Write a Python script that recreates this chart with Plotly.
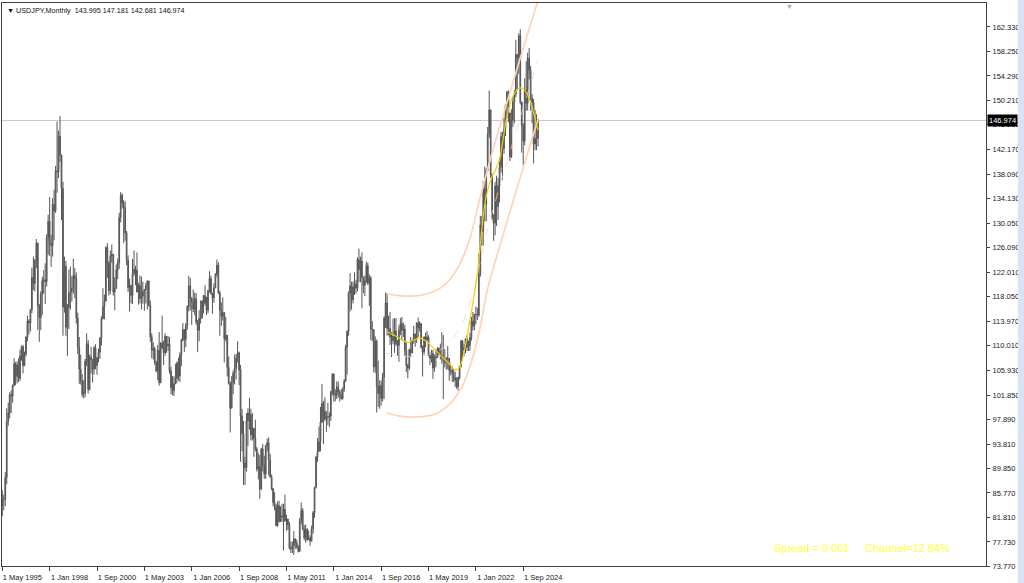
import plotly.graph_objects as go

# ---------------- data: USDJPY monthly, May 1995 .. Jul 2025 ----------------
first_open = 83.7
close = [
    84.6, 84.7, 88.3, 97.5, 98.9, 101.9, 101.7, 103.4,                      # 1995 (May-Dec)
    107.0, 104.9, 106.8, 104.6, 108.3, 109.8, 106.7, 108.6, 111.4, 114.0, 113.7, 115.9,  # 1996
    121.2, 120.2, 124.0, 126.8, 116.5, 114.6, 118.4, 120.6, 120.8, 120.5, 127.7, 130.4,  # 1997
    126.8, 126.4, 133.2, 132.1, 138.7, 138.5, 144.4, 141.3, 135.8, 116.3, 123.0, 113.0,  # 1998
    116.2, 118.6, 118.9, 119.4, 121.5, 121.0, 114.5, 109.7, 106.1, 104.2, 102.0, 102.2,  # 1999
    107.4, 110.3, 102.8, 108.1, 107.7, 106.1, 109.6, 106.7, 108.0, 108.9, 111.2, 114.4,  # 2000
    116.4, 117.3, 126.1, 123.5, 119.0, 124.7, 125.0, 118.8, 119.4, 122.4, 123.6, 131.0,  # 2001
    134.7, 133.4, 132.7, 128.5, 124.0, 119.5, 119.9, 118.2, 121.8, 122.5, 122.4, 118.8,  # 2002
    119.9, 117.7, 118.1, 118.9, 119.2, 119.8, 120.6, 116.6, 111.4, 109.2, 109.5, 107.2,  # 2003
    105.8, 109.2, 103.9, 110.4, 109.6, 108.8, 111.5, 109.9, 110.2, 105.8, 103.1, 102.6,  # 2004
    103.7, 104.6, 107.1, 105.0, 108.4, 110.9, 112.6, 111.0, 113.3, 116.4, 119.8, 117.8,  # 2005
    117.2, 116.0, 117.7, 113.8, 112.5, 114.4, 114.6, 117.3, 118.2, 116.9, 115.8, 119.0,  # 2006
    121.0, 118.6, 117.8, 119.5, 121.7, 123.2, 118.6, 115.8, 114.8, 115.4, 111.1, 111.7,  # 2007
    106.4, 103.7, 99.7, 103.9, 105.5, 106.2, 107.9, 108.8, 106.0, 98.4, 95.5, 90.7,      # 2008
    89.9, 97.6, 98.9, 98.6, 95.3, 96.4, 94.7, 93.0, 89.7, 90.1, 86.4, 93.0,              # 2009
    90.3, 88.9, 93.5, 94.0, 91.2, 88.4, 86.5, 84.2, 83.5, 80.4, 83.7, 81.1,              # 2010
    82.0, 81.8, 83.1, 81.2, 81.5, 80.5, 76.7, 76.6, 77.1, 78.2, 77.6, 76.9,              # 2011
    76.2, 81.2, 82.9, 79.8, 78.4, 79.8, 78.1, 78.4, 77.9, 79.9, 82.5, 86.7,              # 2012
    91.7, 92.6, 94.2, 97.4, 100.5, 99.2, 97.9, 98.2, 98.3, 98.4, 102.4, 105.3,           # 2013
    102.0, 101.8, 103.2, 102.3, 101.8, 101.3, 102.8, 104.1, 109.7, 112.3, 118.6, 119.8,  # 2014
    117.5, 119.6, 120.1, 119.4, 124.1, 122.5, 123.9, 121.2, 119.9, 120.6, 123.1, 120.2,  # 2015
    121.1, 112.7, 112.6, 106.5, 110.7, 103.2, 102.1, 103.4, 101.3, 104.8, 114.5, 117.0,  # 2016
    112.8, 112.8, 111.4, 111.5, 110.8, 112.4, 110.3, 110.0, 112.5, 113.6, 112.5, 112.7,  # 2017
    109.2, 106.7, 106.3, 109.3, 108.8, 110.7, 111.9, 111.0, 113.7, 112.9, 113.6, 109.7,  # 2018
    108.9, 111.4, 110.9, 111.4, 108.3, 107.9, 108.7, 106.3, 108.1, 108.0, 109.5, 108.6,  # 2019
    108.4, 107.9, 107.5, 107.2, 107.8, 107.9, 105.9, 105.9, 105.5, 104.7, 104.3, 103.2,  # 2020
    104.7, 106.6, 110.7, 109.3, 109.6, 111.1, 109.7, 110.0, 111.3, 114.0, 113.2, 115.1,  # 2021
    115.1, 115.0, 121.7, 129.8, 128.7, 135.7, 133.2, 138.7, 144.7, 148.7, 138.1, 131.1,  # 2022
    130.1, 136.2, 132.8, 136.3, 139.3, 144.3, 142.3, 145.5, 149.4, 151.7, 148.2, 141.0,  # 2023
    147.0, 150.0, 151.3, 157.8, 157.3, 160.9, 150.0, 146.2, 143.6, 152.0, 149.8, 157.2,  # 2024
    155.2, 150.6, 149.9, 143.1, 144.0, 143.995, 146.974,                                 # 2025
]
high = [
    86.2, 85.5, 89.2, 99.7, 100.6, 102.3, 102.6, 103.6,
    107.9, 107.3, 107.4, 107.9, 109.3, 110.0, 110.1, 109.0, 111.5, 114.9, 114.3, 116.0,
    122.8, 124.6, 124.2, 127.5, 126.9, 116.8, 118.9, 121.3, 122.4, 123.5, 128.3, 131.5,
    134.4, 128.2, 134.2, 135.6, 139.5, 146.8, 145.3, 147.7, 139.6, 136.9, 124.6, 123.9,
    116.8, 122.5, 123.0, 121.4, 124.3, 122.7, 122.0, 115.4, 111.4, 108.5, 105.3, 104.3,
    107.8, 112.0, 110.9, 108.5, 109.8, 107.6, 109.9, 110.2, 108.1, 109.5, 111.4, 114.8,
    119.4, 118.4, 126.3, 126.8, 123.9, 125.6, 126.6, 125.0, 121.2, 123.3, 124.3, 131.8,
    135.2, 135.0, 133.9, 133.7, 128.8, 124.8, 121.0, 119.8, 124.2, 125.6, 123.1, 125.3,
    120.3, 121.5, 121.3, 120.5, 119.3, 120.3, 120.7, 120.6, 117.4, 112.0, 110.5, 109.8,
    107.5, 110.1, 112.2, 110.5, 114.9, 110.8, 112.0, 111.4, 111.6, 111.4, 106.5, 105.0,
    104.9, 107.0, 107.4, 108.0, 108.9, 111.1, 113.7, 112.0, 113.7, 116.6, 121.4, 121.1,
    117.9, 119.2, 118.7, 118.6, 114.2, 115.8, 117.4, 117.4, 118.3, 119.9, 118.0, 119.1,
    122.2, 121.5, 118.3, 120.2, 121.9, 124.1, 123.7, 119.0, 117.1, 117.9, 115.5, 114.7,
    110.2, 108.2, 104.1, 105.0, 105.9, 108.5, 108.6, 110.7, 109.0, 106.8, 99.6, 97.6,
    91.7, 98.9, 99.7, 101.4, 99.6, 98.9, 96.4, 97.8, 93.3, 92.3, 92.0, 93.2,
    93.8, 91.9, 93.7, 94.7, 94.9, 92.2, 88.8, 86.1, 85.9, 84.0, 84.4, 84.5,
    83.6, 84.0, 84.0, 85.5, 82.2, 81.4, 81.0, 77.8, 77.8, 79.5, 78.3, 78.1,
    77.2, 81.7, 84.2, 83.3, 80.5, 80.6, 80.0, 79.6, 78.8, 80.4, 82.8, 86.7,
    91.8, 94.8, 96.7, 99.9, 103.7, 100.9, 101.5, 99.2, 100.6, 99.0, 102.6, 105.4,
    105.4, 102.8, 104.1, 104.1, 102.7, 102.8, 103.1, 104.5, 110.1, 112.5, 118.9, 121.9,
    120.5, 120.5, 122.0, 120.8, 124.5, 125.9, 124.6, 125.3, 121.3, 121.5, 123.8, 123.6,
    121.7, 121.4, 114.0, 112.4, 111.5, 111.0, 107.5, 104.3, 104.2, 105.5, 114.8, 118.7,
    118.6, 114.9, 115.5, 112.2, 114.4, 114.5, 114.5, 110.9, 113.3, 114.5, 114.7, 113.8,
    113.4, 110.5, 107.0, 109.5, 111.4, 111.0, 113.2, 111.8, 113.8, 114.6, 114.0, 113.7,
    110.0, 111.5, 112.1, 112.4, 111.7, 108.8, 109.3, 109.3, 108.5, 109.3, 109.7, 109.7,
    110.3, 112.2, 111.7, 109.4, 108.1, 109.9, 107.8, 107.0, 106.6, 106.1, 105.7, 104.8,
    104.9, 106.6, 110.9, 110.9, 110.2, 111.1, 111.7, 110.8, 112.1, 114.7, 115.5, 115.2,
    116.4, 116.2, 125.1, 131.3, 131.3, 137.0, 139.4, 139.1, 145.9, 151.9, 148.8, 138.2,
    131.6, 136.9, 137.9, 137.5, 140.9, 145.1, 145.1, 147.4, 149.7, 151.7, 151.9, 148.0,
    148.8, 150.9, 151.97, 160.2, 157.7, 161.3, 161.95, 149.4, 146.5, 153.9, 156.7, 158.1,
    158.9, 155.9, 151.3, 150.5, 148.7, 148.0, 147.181,
]
low = [
    82.0, 82.9, 83.6, 87.2, 96.8, 98.0, 98.9, 100.6,
    103.3, 103.5, 103.8, 104.0, 104.2, 107.5, 105.4, 106.6, 108.2, 110.7, 111.8, 112.3,
    115.3, 119.1, 118.9, 122.7, 112.6, 110.6, 112.5, 115.0, 118.5, 116.8, 119.7, 124.9,
    124.7, 122.9, 124.6, 127.3, 131.8, 135.1, 137.5, 140.2, 130.6, 111.6, 115.4, 111.6,
    108.3, 112.7, 115.9, 117.2, 118.5, 117.8, 113.6, 108.6, 103.7, 103.6, 101.5, 101.3,
    101.5, 106.6, 102.1, 102.6, 105.4, 103.9, 105.2, 106.1, 105.2, 107.2, 107.8, 110.0,
    114.3, 114.3, 117.6, 121.1, 118.2, 118.4, 123.6, 118.2, 115.8, 119.5, 120.9, 122.6,
    130.2, 132.5, 126.8, 127.2, 123.2, 118.8, 115.6, 116.9, 116.8, 121.4, 119.9, 118.7,
    116.7, 116.9, 115.9, 116.9, 115.7, 116.9, 115.9, 116.4, 110.6, 107.9, 107.7, 106.8,
    105.6, 104.3, 103.4, 103.8, 109.4, 106.8, 108.3, 108.8, 109.1, 105.4, 102.0, 101.8,
    101.7, 103.8, 103.8, 104.2, 104.0, 106.6, 110.7, 108.9, 109.7, 112.6, 115.6, 115.8,
    113.4, 115.5, 115.0, 113.4, 108.9, 110.7, 113.6, 114.4, 115.3, 116.5, 115.0, 115.3,
    118.7, 118.3, 115.2, 117.0, 119.4, 121.2, 118.5, 111.6, 113.2, 114.1, 107.2, 110.7,
    104.9, 103.6, 95.7, 99.7, 102.0, 103.6, 104.4, 107.2, 103.5, 90.9, 92.6, 87.1,
    87.1, 89.3, 93.5, 96.2, 94.4, 94.4, 91.7, 92.6, 89.3, 88.0, 84.8, 86.3,
    89.3, 88.1, 88.1, 92.6, 88.7, 88.3, 86.2, 83.6, 82.9, 80.4, 80.2, 80.9,
    81.5, 81.0, 76.3, 81.0, 79.6, 79.7, 76.5, 75.9, 75.9, 75.6, 76.6, 76.6,
    76.0, 76.1, 80.6, 79.6, 78.0, 77.6, 77.9, 78.1, 77.1, 77.8, 79.1, 81.7,
    86.5, 90.9, 92.6, 92.6, 97.3, 93.8, 97.6, 95.8, 96.9, 96.6, 97.6, 101.8,
    100.8, 100.8, 101.2, 101.4, 100.8, 101.1, 101.1, 102.4, 104.1, 105.2, 111.6, 115.6,
    115.9, 116.9, 118.3, 118.5, 118.9, 120.4, 120.4, 116.1, 118.6, 118.1, 120.3, 119.9,
    116.5, 110.9, 110.7, 105.6, 105.5, 99.0, 99.9, 99.6, 100.1, 100.8, 101.2, 112.9,
    111.6, 111.7, 110.1, 108.1, 110.2, 108.8, 109.9, 108.3, 107.3, 111.7, 110.8, 111.4,
    108.3, 105.6, 104.6, 105.9, 108.1, 108.9, 110.3, 109.8, 110.4, 111.4, 112.3, 109.5,
    104.9, 108.5, 109.7, 110.8, 108.3, 106.8, 107.2, 104.5, 105.7, 106.5, 108.2, 108.4,
    107.7, 107.0, 101.2, 106.4, 106.0, 106.1, 104.2, 105.1, 104.0, 104.0, 103.2, 102.9,
    102.6, 104.4, 106.4, 107.5, 108.3, 108.7, 109.1, 109.1, 109.1, 110.8, 112.5, 112.5,
    113.5, 114.2, 114.7, 121.3, 126.4, 126.4, 130.4, 130.4, 138.8, 144.1, 137.5, 130.6,
    127.2, 128.1, 129.6, 130.6, 133.5, 138.4, 137.2, 141.5, 144.4, 147.3, 146.7, 140.3,
    140.8, 145.9, 146.5, 150.8, 151.9, 154.6, 149.6, 141.7, 139.6, 142.9, 148.6, 148.6,
    153.7, 148.6, 146.5, 139.9, 142.1, 142.1, 142.681,
]

# x tick labels (every 32 bars)
xtick_pos = [0, 32, 64, 96, 128, 160, 192, 224, 256, 288, 320, 352]
xtick_text = ["1 May 1995", "1 Jan 1998", "1 Sep 2000", "1 May 2003", "1 Jan 2006",
              "1 Sep 2008", "1 May 2011", "1 Jan 2014", "1 Sep 2016", "1 May 2019",
              "1 Jan 2022", "1 Sep 2024"]
# right price scale labels
ytick_vals = [162.330, 158.250, 154.290, 150.210, 146.250, 142.170, 138.090, 134.130,
              130.050, 126.090, 122.010, 118.050, 113.970, 110.010, 105.930, 101.850,
              97.890, 93.810, 89.850, 85.770, 81.810, 77.730, 73.770]

# regression channel, bar index -> price
chan_m = [260, 268, 276, 284, 292, 298, 304, 310, 316, 322, 328, 334, 340, 346, 352, 358, 362]
chan_upper = [118.5, 118.2, 118.1, 118.3, 118.9, 119.8, 121.3, 123.8, 127.6, 133.4,
              139.0, 144.2, 149.1, 154.0, 158.8, 163.6, 166.7]
chan_lower = [98.9, 98.4, 98.25, 98.3, 98.7, 99.5, 100.8, 102.9, 106.5, 112.0,
              119.4, 124.6, 129.5, 134.4, 139.2, 144.0, 147.1]
chan_mid = [108.7, 108.3, 108.2, 108.3, 108.8, 109.65, 111.0, 113.3, 117.0, 122.7,
            129.2, 134.4, 139.3, 144.2, 149.0, 153.8, 156.9]
# polynomial fit line (yellow)
fit_m = [260, 263, 267, 270, 274, 278, 282, 286, 290, 294, 298, 302, 306, 309, 312, 315,
         318, 321, 324, 327, 330.9, 333.1, 336, 338.3, 341, 344.4, 348.2, 351.1, 354.5,
         357.9, 360.8, 362]
fit_p = [112.3, 111.9, 111.4, 110.9, 110.5, 110.9, 111.25, 110.8, 109.9, 108.9, 107.9,
         107.0, 106.0, 106.4, 108.9, 112.8, 117.0, 121.8, 129.0, 134.6, 137.7, 138.8,
         140.5, 143.8, 147.6, 150.6, 152.1, 152.3, 151.4, 149.2, 146.5, 145.4]

last_price = 146.974
title_text = "\u25bc USDJPY,Monthly\u00a0\u00a0143.995 147.181 142.681 146.974"

# ---------------- figure ----------------
n = len(close)
bars = list(range(n))
opens = [first_open] + close[:-1]

FONT = "Liberation Sans, Arial, sans-serif"
candle_style = dict(line=dict(color="#555555", width=1), fillcolor="#909090")

fig = go.Figure()
fig.add_trace(go.Candlestick(
    x=bars, open=opens, high=high, low=low, close=close,
    increasing=candle_style, decreasing=candle_style,
    whiskerwidth=0, hoverinfo="skip", showlegend=False))

peach = "#FFD3B6"
fig.add_trace(go.Scatter(x=chan_m, y=chan_mid, mode="lines",
                         line=dict(color="rgba(255,205,170,0.7)", width=1, dash="dash", shape="spline"),
                         hoverinfo="skip", showlegend=False))
fig.add_trace(go.Scatter(x=chan_m, y=chan_upper, mode="lines",
                         line=dict(color=peach, width=1.7, shape="spline"),
                         hoverinfo="skip", showlegend=False))
fig.add_trace(go.Scatter(x=chan_m, y=chan_lower, mode="lines",
                         line=dict(color=peach, width=1.7, shape="spline"),
                         hoverinfo="skip", showlegend=False))
fig.add_trace(go.Scatter(x=fit_m, y=fit_p, mode="lines",
                         line=dict(color="#F2D200", width=1.2, shape="spline"),
                         hoverinfo="skip", showlegend=False))

fig.update_layout(
    width=1024, height=583,
    margin=dict(l=2, r=38, t=3, b=17),
    paper_bgcolor="white", plot_bgcolor="white",
    template="none", showlegend=False,
    font=dict(family=FONT, size=8, color="#202020"),
    xaxis=dict(range=[-0.2, 664.7], tickmode="array", tickvals=xtick_pos, ticktext=xtick_text,
               ticks="outside", ticklen=4, tickcolor="#404040", tickwidth=1,
               showline=True, linecolor="#404040", linewidth=1, mirror=True,
               showgrid=False, zeroline=False, rangeslider=dict(visible=False),
               tickfont=dict(family=FONT, size=7.5, color="#202020"),
               ticklabelshift=20, ticklabelstandoff=0),
    yaxis=dict(side="right", range=[73.77, 166.27], tickmode="array", tickvals=ytick_vals,
               ticktext=[f"{v:.3f}" for v in ytick_vals],
               ticks="outside", ticklen=3, tickcolor="#404040", tickwidth=1,
               showline=True, linecolor="#404040", linewidth=1, mirror=True,
               showgrid=False, zeroline=False,
               tickfont=dict(family=FONT, size=7.5, color="#202020"),
               ticklabelstandoff=1),
)

# current price line
fig.add_shape(type="line", xref="paper", x0=0, x1=1, yref="y", y0=last_price, y1=last_price,
              line=dict(color="#C8C8C8", width=1), layer="below")
# right strip (window decoration)
fig.add_shape(type="rect", xref="paper", yref="paper", x0=1.0325, x1=1.045, y0=-0.03, y1=1.006,
              fillcolor="#D8E4F2", line=dict(width=0))

annotations = [
    dict(xref="paper", yref="paper", x=0, y=1, xanchor="left", yanchor="top", xshift=3, yshift=-1,
         text=title_text, showarrow=False, font=dict(family=FONT, size=7.2, color="#101010")),
    dict(xref="paper", yref="y", x=1, y=last_price, xanchor="left", yanchor="middle", xshift=1,
         text=f"{last_price:.3f}", showarrow=False, bgcolor="#000000", borderpad=1,
         font=dict(family=FONT, size=7.5, color="#FFFFFF")),
    dict(xref="paper", yref="paper", x=(772 - 2) / 984, y=(566 - 548) / 563, xanchor="left",
         yanchor="middle", text="Spread = 0.001", showarrow=False,
         font=dict(family=FONT, size=11, color="#FFFF3C")),
    dict(xref="paper", yref="paper", x=(863 - 2) / 984, y=(566 - 548) / 563, xanchor="left",
         yanchor="middle", text="Channel=12.84%", showarrow=False,
         font=dict(family=FONT, size=11, color="#FFFF3C")),
    dict(xref="paper", yref="paper", x=(789 - 2) / 984, y=1, xanchor="center", yanchor="top",
         yshift=2, text="\u25bc", showarrow=False, font=dict(family=FONT, size=7, color="#A8A8A8")),
]
fig.update_layout(annotations=annotations)

# remove the default page margin so the figure sits at the window's top-left corner
fig.write_html("out.html", config={"displayModeBar": False},
               post_script="document.body.style.margin='0';document.body.style.overflow='hidden';")
